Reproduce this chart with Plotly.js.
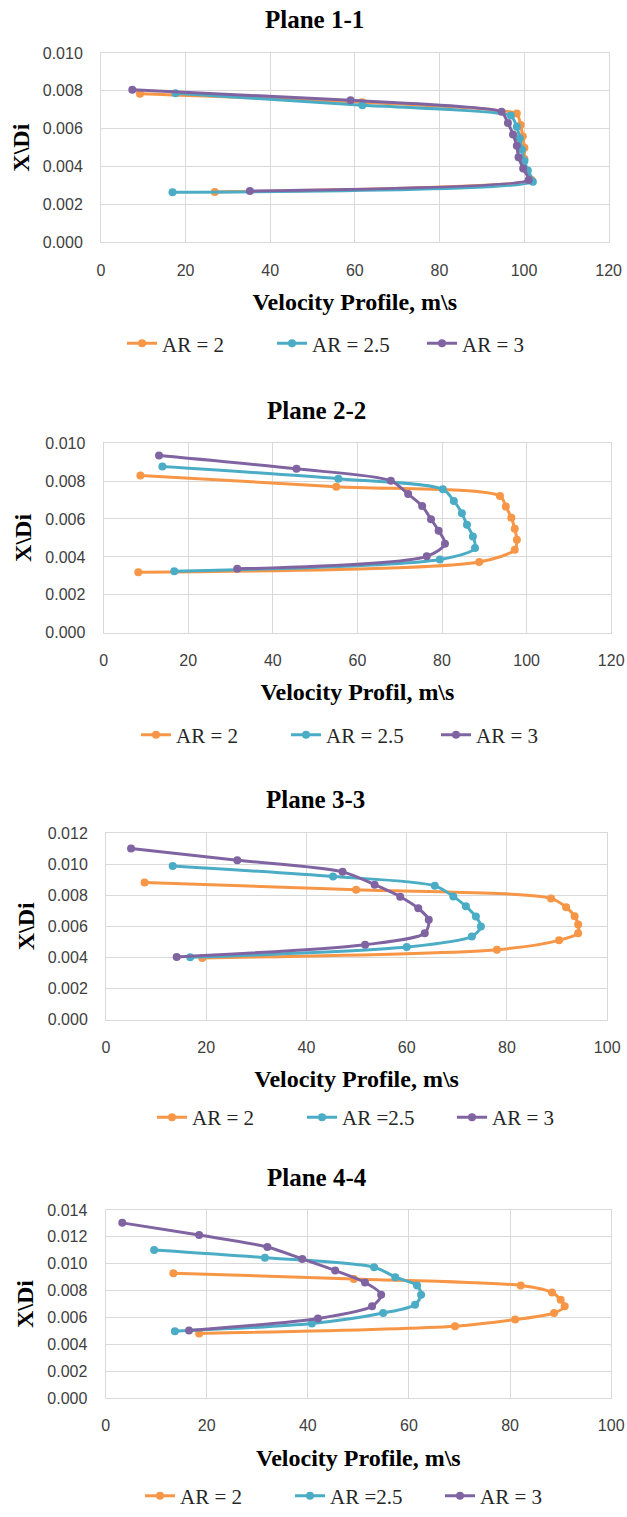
<!DOCTYPE html>
<html><head><meta charset="utf-8">
<script src="https://cdn.plot.ly/plotly-3.0.1.min.js"></script>
<style>html,body{margin:0;padding:0;background:#fff}</style>
</head><body><div id="chart" style="width:627px;height:1517px"></div>
<script>
// ---------- DATA (velocity m/s, X\Di) ----------
const seriesNames = ['AR = 2', 'AR = 2.5', 'AR = 3'];
const seriesNames34 = ['AR = 2', 'AR =2.5', 'AR = 3'];
const planeTitles = ['Plane 1-1', 'Plane 2-2', 'Plane 3-3', 'Plane 4-4'];
const xTitles = ['Velocity Profile, m\\s', 'Velocity Profil, m\\s', 'Velocity Profile, m\\s', 'Velocity Profile, m\\s'];
const yTitle = 'X\\Di';

// Plane 1-1
const p1_ar2_v  = [9.2, 61.7, 98.3, 99.2, 99.7, 100.1, 100.1, 100.7, 101.8, 26.9];
const p1_ar2_y  = [0.00785, 0.0074, 0.0068, 0.0062, 0.0056, 0.0050, 0.0044, 0.0038, 0.0033, 0.00266];
const p1_ar25_v = [17.6, 61.8, 96.9, 98.3, 99.0, 99.5, 100.1, 100.9, 102.1, 16.9];
const p1_ar25_y = [0.00787, 0.00724, 0.0067, 0.0061, 0.0055, 0.0049, 0.0043, 0.0038, 0.0032, 0.00265];
const p1_ar3_v  = [7.4, 59.0, 94.7, 96.2, 97.4, 98.3, 98.7, 99.8, 101.1, 35.2];
const p1_ar3_y  = [0.00806, 0.0075, 0.0069, 0.0063, 0.0057, 0.0051, 0.0045, 0.0039, 0.0033, 0.00271];

// Plane 2-2
const p2_ar2_v  = [8.7, 55.0, 93.7, 95.1, 96.4, 97.2, 97.7, 97.2, 88.8, 8.2];
const p2_ar2_y  = [0.00829, 0.00770, 0.00721, 0.00665, 0.00607, 0.00548, 0.00490, 0.00438, 0.00373, 0.00319];
const p2_ar25_v = [13.9, 55.5, 80.2, 82.8, 84.7, 85.9, 87.3, 87.8, 79.5, 16.7];
const p2_ar25_y = [0.00876, 0.00812, 0.00756, 0.00695, 0.00630, 0.00569, 0.00508, 0.00447, 0.00386, 0.00325];
const p2_ar3_v  = [13.1, 45.6, 67.9, 72.0, 75.3, 77.4, 79.2, 80.7, 76.4, 31.6];
const p2_ar3_y  = [0.00934, 0.00864, 0.00801, 0.00731, 0.00668, 0.00599, 0.00538, 0.00469, 0.00403, 0.00337];

// Plane 3-3
const p3_ar2_v  = [7.7, 49.9, 88.8, 91.8, 93.5, 94.2, 94.2, 90.4, 78.0, 19.2];
const p3_ar2_y  = [0.00883, 0.00836, 0.00780, 0.00723, 0.00665, 0.00612, 0.00556, 0.00510, 0.00450, 0.00397];
const p3_ar25_v = [13.3, 45.3, 65.6, 69.3, 71.8, 73.8, 74.8, 73.0, 60.0, 16.8];
const p3_ar25_y = [0.00989, 0.00921, 0.00861, 0.00793, 0.00729, 0.00663, 0.00599, 0.00535, 0.00467, 0.00401];
const p3_ar3_v  = [5.0, 26.2, 47.2, 53.6, 58.7, 62.3, 64.4, 63.6, 51.7, 14.1];
const p3_ar3_y  = [0.01102, 0.01026, 0.00951, 0.00868, 0.00791, 0.00716, 0.00642, 0.00556, 0.00482, 0.00403];

// Plane 4-4
const p4_ar2_v  = [13.4, 49.1, 82.1, 88.3, 90.0, 90.8, 88.7, 81.0, 69.1, 18.5];
const p4_ar2_y  = [0.00929, 0.00887, 0.00838, 0.00786, 0.00732, 0.00683, 0.00633, 0.00584, 0.00535, 0.00481];
const p4_ar25_v = [9.6, 31.5, 53.1, 57.3, 61.6, 62.4, 61.2, 54.9, 40.8, 13.7];
const p4_ar25_y = [0.01102, 0.01045, 0.00974, 0.00900, 0.00838, 0.00769, 0.00695, 0.00633, 0.00555, 0.00498];
const p4_ar3_v  = [3.3, 18.5, 32.0, 38.9, 45.4, 51.3, 54.5, 52.7, 42.0, 16.5];
const p4_ar3_y  = [0.01304, 0.01213, 0.01124, 0.01035, 0.00949, 0.00860, 0.00769, 0.00683, 0.00592, 0.00503];

const xMax = [120, 120, 100, 100];
const yMax = [0.010, 0.010, 0.012, 0.014];

const planes = [
  [[p1_ar2_v, p1_ar2_y], [p1_ar25_v, p1_ar25_y], [p1_ar3_v, p1_ar3_y]],
  [[p2_ar2_v, p2_ar2_y], [p2_ar25_v, p2_ar25_y], [p2_ar3_v, p2_ar3_y]],
  [[p3_ar2_v, p3_ar2_y], [p3_ar25_v, p3_ar25_y], [p3_ar3_v, p3_ar3_y]],
  [[p4_ar2_v, p4_ar2_y], [p4_ar25_v, p4_ar25_y], [p4_ar3_v, p4_ar3_y]]
];

// ---------- STYLE / LAYOUT ----------
const W = 627, H = 1517;
const colors = ['#F79646', '#4BACC6', '#8064A2'];
const px = v => v / W, py = v => 1 - v / H;
const boxes = [
  {l:101, r:608.6, t:53.3, b:244},
  {l:103.6, r:611.2, t:446, b:637},
  {l:106, r:607.2, t:838.7, b:1026.3},
  {l:105.6, r:611.2, t:1218, b:1407.3}
];
const smooth = [0.5, 0.8, 0.8, 0.8];
const titleY = [20, 413, 805, 1185];
const titleX = [314, 316, 315, 317];
const legendY = [346, 740, 1125, 1506];
const legendX = [122, 136, 152, 140];

const traces = [];
const layout = {
  width: W, height: H, showlegend: true,
  margin: {l:0, r:0, t:0, b:0},
  paper_bgcolor: '#fff', plot_bgcolor: '#fff',
  annotations: []
};

planes.forEach((plane, i) => {
  const n = i === 0 ? '' : String(i + 1);
  const names = i < 2 ? seriesNames : seriesNames34;
  const legKey = i === 0 ? 'legend' : 'legend' + (i + 1);
  plane.forEach((s, j) => {
    traces.push({
      type: 'scatter', mode: 'lines+markers',
      x: s[0], y: s[1], name: names[j],
      xaxis: 'x' + n, yaxis: 'y' + n, legend: legKey,
      line: {color: colors[j], width: 3, shape: 'spline', smoothing: smooth[i]},
      marker: {color: colors[j], size: 8},
      hoverinfo: 'x+y'
    });
  });
  const b = boxes[i];
  layout['xaxis' + n] = {
    domain: [px(b.l), px(b.r)], anchor: 'y' + n,
    range: [0, xMax[i]], tick0: 0, dtick: 20,
    showgrid: true, gridcolor: '#d9d9d9', gridwidth: 1,
    showline: true, mirror: true, linecolor: '#d9d9d9', linewidth: 1,
    zeroline: false, ticks: '', ticklabelstandoff: 13,
    tickfont: {family: 'Liberation Sans', size: 16, color: '#404040'},
    title: {text: xTitles[i], standoff: 15,
            font: {family: 'Liberation Serif', size: 24, color: '#000', weight: 'bold'}}
  };
  layout['yaxis' + n] = {
    domain: [py(b.b), py(b.t)], anchor: 'x' + n,
    range: [0, yMax[i]], tick0: 0, dtick: 0.002, tickformat: '.3f',
    showgrid: true, gridcolor: '#d9d9d9', gridwidth: 1,
    showline: true, mirror: true, linecolor: '#d9d9d9', linewidth: 1,
    zeroline: false, ticks: '', ticklabelstandoff: 14,
    tickfont: {family: 'Liberation Sans', size: 16, color: '#404040'},
    title: {text: yTitle, standoff: 6,
            font: {family: 'Liberation Serif', size: 24, color: '#000', weight: 'bold'}}
  };
  layout[legKey] = {
    orientation: 'h', x: px(legendX[i]), xanchor: 'left',
    y: py(legendY[i]), yanchor: 'middle',
    entrywidth: 105, bgcolor: 'rgba(0,0,0,0)',
    font: {family: 'Liberation Serif', size: 21, color: '#262626'}
  };
  layout.annotations.push({
    text: planeTitles[i], xref: 'paper', yref: 'paper',
    x: px(titleX[i]), y: py(titleY[i]), xanchor: 'center', yanchor: 'middle',
    showarrow: false,
    font: {family: 'Liberation Serif', size: 25, color: '#000', weight: 'bold'}
  });
});

Plotly.newPlot('chart', traces, layout, {displayModeBar: false, staticPlot: true});
</script></body></html>
